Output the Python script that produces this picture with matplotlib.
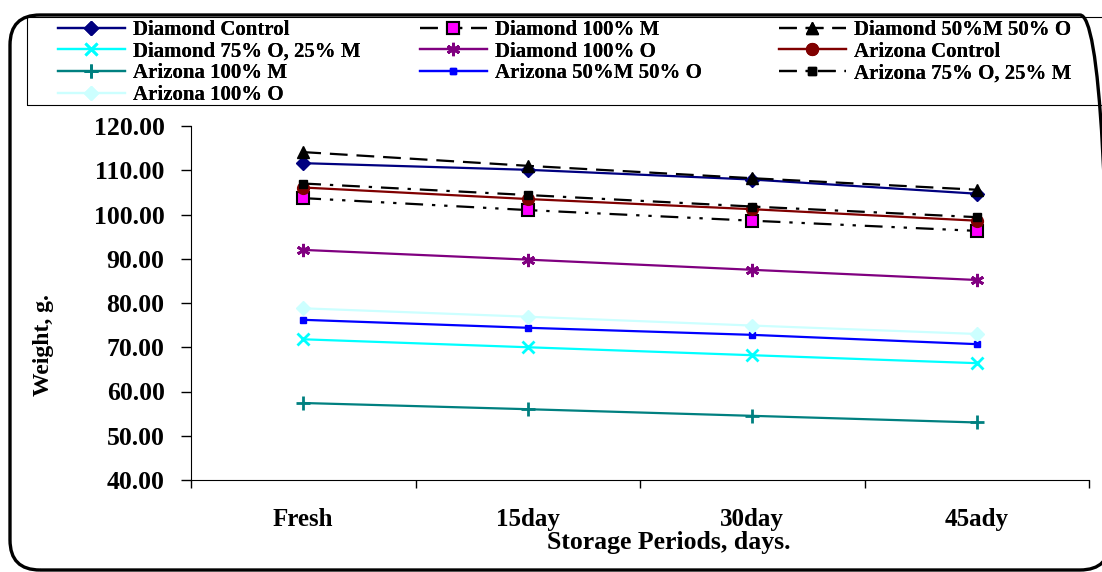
import matplotlib
matplotlib.use('Agg')
import matplotlib.pyplot as plt
from matplotlib.patches import FancyBboxPatch, Rectangle

plt.rcParams['font.family'] = ['Liberation Serif', 'DejaVu Serif']
plt.rcParams['font.weight'] = 'bold'

periods = ['Fresh', '15day', '30day', '45ady']

diamond_control = [111.6, 110.1, 107.9, 104.7]
diamond_100m = [103.7, 101.0, 98.6, 96.3]
diamond_50m_50o = [114.1, 111.0, 108.2, 105.6]
diamond_75o_25m = [71.8, 70.0, 68.2, 66.4]
diamond_100o = [92.0, 89.8, 87.5, 85.2]
arizona_control = [106.1, 103.5, 101.2, 98.6]
arizona_100m = [57.4, 56.0, 54.5, 53.0]
arizona_50m_50o = [76.2, 74.4, 72.8, 70.7]
arizona_75o_25m = [107.0, 104.4, 101.8, 99.4]
arizona_100o = [78.8, 76.9, 74.9, 73.0]

W, H = 1102, 572
fig = plt.figure(figsize=(W / 100, H / 100), dpi=100)
ax = fig.add_axes([191 / W, 1 - 480 / H, (1089 - 191) / W, (480 - 126) / H])

x = list(range(len(periods)))
lw = 1.6
ms = 8.5

h = {}
h['dc'], = ax.plot(x, diamond_control, color='#000080', lw=lw, marker='D', ms=7,
                   label='Diamond Control')
h['d100m'], = ax.plot(x, diamond_100m, color='black', lw=lw, dashes=(8, 4, 1.5, 4, 1.5, 4),
                      marker='s', ms=ms, mfc='#FF00FF', mec='black', mew=1.5,
                      label='Diamond 100% M')
h['d50'], = ax.plot(x, diamond_50m_50o, color='black', lw=lw, dashes=(8, 4),
                    marker='^', ms=ms, label='Diamond 50%M 50% O')
h['d75o'], = ax.plot(x, diamond_75o_25m, color='#00FFFF', lw=lw, marker='x', ms=ms, mew=2,
                     label='Diamond 75% O, 25% M')
h['d100o'], = ax.plot(x, diamond_100o, color='#800080', lw=lw, marker=(6, 2, 0), ms=ms + 1,
                      mew=2, label='Diamond 100% O')
h['ac'], = ax.plot(x, arizona_control, color='#800000', lw=lw, marker='o', ms=ms,
                   label='Arizona Control')
h['a100m'], = ax.plot(x, arizona_100m, color='#008080', lw=lw, marker='+', ms=ms + 1, mew=2,
                      label='Arizona 100% M')
h['a50'], = ax.plot(x, arizona_50m_50o, color='#0000FF', lw=lw, marker='s', ms=5,
                    label='Arizona 50%M 50% O')
h['a75o'], = ax.plot(x, arizona_75o_25m, color='black', lw=lw, dashes=(8, 4, 1.5, 4),
                     marker='s', ms=6, label='Arizona 75% O, 25% M')
h['a100o'], = ax.plot(x, arizona_100o, color='#CCFFFF', lw=lw, marker='D', ms=7,
                      label='Arizona 100% O')

ax.set_xlim(-0.5, len(periods) - 0.5)
ax.set_ylim(40, 120)
ax.set_yticks(range(40, 121, 10))
ax.set_yticklabels(['%.2f' % v for v in range(40, 121, 10)], fontsize=18.5, fontweight='bold')
ax.set_xticks(x)
ax.set_xticklabels(periods, fontsize=18, fontweight='bold')
ax.set_xticks([i - 0.5 for i in range(len(periods) + 1)], minor=True)
ax.tick_params(axis='x', which='major', length=0, pad=20)
ax.tick_params(axis='x', which='minor', length=6, width=1, direction='out')
ax.tick_params(axis='y', length=7, width=1, direction='out', pad=12)
ax.spines['top'].set_visible(False)
ax.spines['right'].set_visible(False)

fig.text(44 / W, 1 - 345 / H, 'Weight, g.', rotation=90, ha='center', va='center',
         fontsize=17, fontweight='bold')
fig.text(669 / W, 1 - 543 / H, 'Storage Periods, days.', ha='center', va='center',
         fontsize=18.5, fontweight='bold')

# legend: three equal-width columns, Excel style
columns = [['dc', 'd75o', 'a100m', 'a100o'], ['d100m', 'd100o', 'a50'], ['d50', 'ac', 'a75o']]
col_x = [58, 420, 779]
for keys, cx in zip(columns, col_x):
    leg = fig.legend([h[k] for k in keys], [h[k].get_label() for k in keys],
                     loc='upper left', bbox_to_anchor=(cx / W, 1 - 20 / H),
                     fontsize=15, frameon=False, handlelength=3.2, handletextpad=0.38,
                     borderpad=0, labelspacing=0.08, borderaxespad=0)
    fig.add_artist(leg)

fig.patches.append(Rectangle((27 / W, 1 - 105 / H), 1.2, 88 / H, transform=fig.transFigure,
                             fill=False, ec='black', lw=0.8))

# rounded outer frame
frame = FancyBboxPatch((0.1, 0.02), 11.0, 5.55, boxstyle='round,pad=0,rounding_size=0.3',
                       transform=fig.dpi_scale_trans, fill=False, ec='black', lw=2.4,
                       clip_on=False)
fig.patches.append(frame)

fig.savefig('out.png', dpi=100)
